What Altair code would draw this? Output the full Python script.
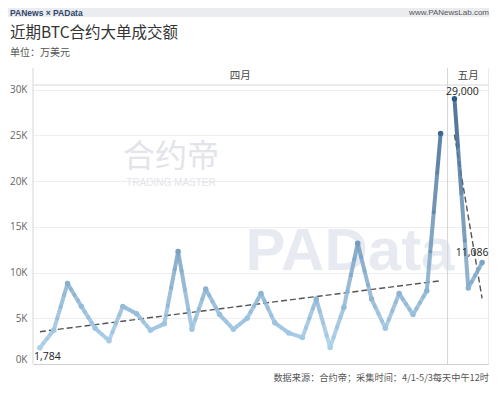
import altair as alt
import pandas as pd

# ---- data ----
month_names = ["四月", "五月"]
april_values = [1784, 3700, 8800, 6300, 3900, 2550, 6300, 5500, 3700, 4400,
                12300, 3800, 8200, 5400, 3800, 5000, 7700, 4500, 3400, 2900,
                7100, 1800, 6200, 13200, 7100, 3900, 7700, 5400, 8000, 25200]
may_values = [29000, 8300, 11086]
y_ticks = [0, 5000, 10000, 15000, 20000, 25000, 30000]
label_min = [1784]
label_max = [29000]
label_last = [11086]

title_text = "近期BTC合约大单成交额"
subtitle_text = "单位：万美元"
footer_text = "数据来源：合约帝；采集时间：4/1-5/3每天中午12时"
brand_left = "PANews × PAData"
brand_right = "www.PANewsLab.com"

rows = []
i = 1
for m, vals in zip(month_names, [april_values, may_values]):
    for v in vals:
        rows.append({"idx": i, "val": v, "month": m})
        i += 1
df = pd.DataFrame(rows)
deco = pd.DataFrame({"k": [0]})

W, H = 456, 279
CJK = "Noto Sans CJK SC"
n = len(df)

x_scale = alt.Scale(domain=[0.5, n + 0.5], nice=False, zero=False)
y_scale = alt.Scale(domain=[0, 30500], nice=False)
c_scale = alt.Scale(domain=[1784, 29000], range=["#a9cfe9", "#2a5783"])

X = alt.X("idx:Q", scale=x_scale,
          axis=alt.Axis(labels=False, ticks=False, grid=False, domainColor="#cfcfcf", title=None))
Y = alt.Y("val:Q", scale=y_scale,
          axis=alt.Axis(values=y_ticks, labelExpr="datum.value/1000 + 'K'", domain=False,
                        ticks=False, gridColor="#eeeeee", labelColor="#666666",
                        labelFontSize=10, labelFont="Open Sans", labelPadding=6,
                        labelFlush=1, title=None))
C = alt.Color("val:Q", scale=c_scale, legend=None)

base = alt.Chart(df)

# watermarks (faint)
wm1 = alt.Chart(deco).mark_text(text="合约帝", font=CJK, fontSize=32, color="#e3e4e9",
                                align="center", baseline="middle").encode(
    x=alt.value(138), y=alt.value(72))
wm2 = alt.Chart(deco).mark_text(text="TRADING MASTER", font="Liberation Sans", fontSize=10,
                                color="#e3e4e9", align="center", baseline="middle").encode(
    x=alt.value(138), y=alt.value(98))
wm3 = alt.Chart(deco).mark_text(text="PAData", font="Liberation Sans", fontSize=60,
                                fontWeight="bold", color="#e7ebf1", align="center",
                                baseline="middle").encode(x=alt.value(317), y=alt.value(167))

grid = base.mark_point(opacity=0).encode(x=X, y=Y)

# month boundaries
bounds = base.transform_aggregate(lo="min(idx)", hi="max(idx)", groupby=["month"]).transform_fold(
    ["lo", "hi"]).transform_calculate(
    b="datum.key == 'lo' ? datum.value - 0.5 : datum.value + 0.5").mark_rule(
    color="#d6d6d6", strokeWidth=1).encode(
    x=alt.X("b:Q", scale=x_scale), y=alt.value(-17), y2=alt.value(H))
topline = alt.Chart(deco).mark_rule(color="#d6d6d6", strokeWidth=1).encode(
    x=alt.value(0), x2=alt.value(W), y=alt.value(0))
headers = base.transform_aggregate(c="mean(idx)", groupby=["month"]).mark_text(
    font=CJK, fontSize=10.5, color="#444444", baseline="middle").encode(
    x=alt.X("c:Q", scale=x_scale), y=alt.value(-9), text="month:N")


# gradient-like line: each point draws quarter-pieces toward its neighbours,
# each piece coloured by the value blended at the piece's middle
def pieces(op, t0, t1):
    tm = (t0 + t1) / 2
    return base.transform_window(
        window=[{"op": op, "field": "val", "as": "ov"}, {"op": op, "field": "idx", "as": "oi"}],
        groupby=["month"], sort=[alt.SortField("idx")]).transform_filter(
        "datum.oi != null").transform_calculate(
        ai=f"datum.idx + (datum.oi - datum.idx) * {t0}",
        av=f"datum.val + (datum.ov - datum.val) * {t0}",
        bi=f"datum.idx + (datum.oi - datum.idx) * {t1}",
        bv=f"datum.val + (datum.ov - datum.val) * {t1}",
        cv=f"datum.val + (datum.ov - datum.val) * {tm}").mark_rule(
        strokeWidth=4, strokeCap="round", opacity=0.85).encode(
        x=alt.X("ai:Q", scale=x_scale), x2="bi:Q",
        y=alt.Y("av:Q", scale=y_scale), y2="bv:Q",
        color=alt.Color("cv:Q", scale=c_scale, legend=None))


segs = [pieces(op, a, b) for op in ("lead", "lag") for (a, b) in ((0, 0.25), (0.25, 0.5))]

pts = base.mark_circle(size=30, opacity=1).encode(x=X, y=Y, color=C)

trend = base.transform_regression("idx", "val", groupby=["month"]).mark_line(
    color="#555555", strokeDash=[6, 3], strokeWidth=1.4).encode(
    x=X, y=Y, detail="month:N")


def lab(values, align, dx, dy):
    return base.transform_filter(alt.FieldOneOfPredicate(field="val", oneOf=values)).mark_text(
        font="Open Sans", fontSize=10.5, color="#222222", align=align, baseline="middle",
        dx=dx, dy=dy).encode(x=X, y=Y, text=alt.Text("val:Q", format=",.0f"))


lab1 = lab(label_min, "left", -6, 9)
lab2 = lab(label_max, "center", 8, -7)
lab3 = lab(label_last, "center", -10, -10)

# titles, band, footer
band = alt.Chart(deco).mark_rect(color="#ebecef").encode(
    x=alt.value(-25), x2=alt.value(W + 10), y=alt.value(-77), y2=alt.value(-68))
b1 = alt.Chart(deco).mark_text(text=brand_left, font="Liberation Sans", fontSize=8.5,
                               fontWeight="bold", color="#2f4668", align="left",
                               baseline="middle").encode(x=alt.value(-23), y=alt.value(-72.5))
b2 = alt.Chart(deco).mark_text(text=brand_right, font="Liberation Sans", fontSize=8,
                               color="#555555", align="right", baseline="middle").encode(
    x=alt.value(W), y=alt.value(-72.5))
t1 = alt.Chart(deco).mark_text(text=title_text, font=CJK, fontSize=15.5, color="#333333",
                               align="left", baseline="middle").encode(
    x=alt.value(-23), y=alt.value(-52))
t2 = alt.Chart(deco).mark_text(text=subtitle_text, font=CJK, fontSize=10, color="#555555",
                               align="left", baseline="middle").encode(
    x=alt.value(-23), y=alt.value(-32))
foot = alt.Chart(deco).mark_text(text=footer_text, font=CJK, fontSize=9.2, color="#555555",
                                 align="right", baseline="middle").encode(
    x=alt.value(W), y=alt.value(293))

chart = alt.layer(
    grid, wm1, wm2, wm3, bounds, topline, headers, trend, *segs, pts,
    lab1, lab2, lab3, band, b1, b2, t1, t2, foot
).properties(
    width=W, height=H,
    autosize=alt.AutoSizeParams(type="none"),
    padding={"left": 25, "top": 77, "right": 0, "bottom": 20},
    background="white",
).configure_view(stroke=None)

chart.save("out.html", embed_options={"renderer": "svg", "actions": False})
